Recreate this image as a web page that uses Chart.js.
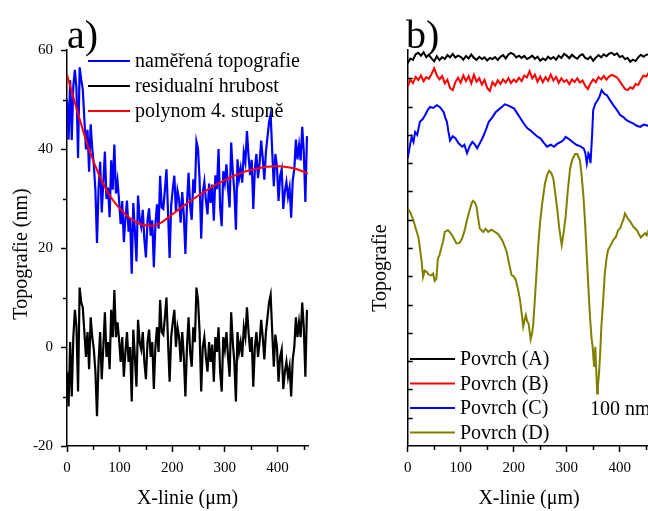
<!DOCTYPE html>
<html>
<head>
<meta charset="utf-8">
<script src="https://cdn.jsdelivr.net/npm/chart.js@4"></script>
<style>
  html, body { margin: 0; padding: 0; width: 648px; height: 511px; overflow: hidden; background: #fff; }
  canvas { position: absolute; top: 0; }
  #chartA { left: 0; }
  #chartB { left: 330px; }
  .panel { position: absolute; font-family: "Liberation Serif", serif; font-size: 40px; line-height: 40px; color: #000; }
</style>
</head>
<body>
<canvas id="chartA" width="330" height="511"></canvas>
<canvas id="chartB" width="330" height="511"></canvas>
<div class="panel" style="left:67px; top:15px">a)</div>
<div class="panel" style="left:406px; top:15px">b)</div>
<script>
// ---- panel a) : sampled every 3 µm ----
const stepA = 3;
const measured = [
  50, 41.9, 53.9, 41.8, 52.7, 56, 52.2, 38.2, 56.5, 54,
  52, 46, 39.9, 43.9, 35.4, 45, 40.1, 36.8, 31.6, 21,
  32, 37.4, 27.2, 33.1, 39.5, 29.9, 32.2, 26.2, 37.7, 31.8,
  40.9, 31, 33.6, 29.6, 24.8, 29.5, 21.2, 25.9, 29.6, 23.3,
  26, 14.8, 29.1, 23.5, 17.3, 30.6, 25.9, 24.3, 27.7, 21.7,
  18.1, 25.6, 28, 22.5, 25.6, 16.1, 24.7, 28.8, 23.9, 34.6,
  28.2, 27.9, 31.7, 35.9, 27.2, 18, 28.6, 31.9, 34.6, 27.4,
  31.6, 29.8, 25.1, 31.3, 26.6, 18.8, 29, 35.2, 28.5, 25.7,
  33.9, 31.1, 41.5, 40, 33.7, 21.9, 31.1, 33.4, 29.6, 26.8,
  33, 29.1, 32.8, 25.5, 34.7, 31.9, 40, 28.2, 24.4, 35.5,
  33.2, 36.9, 32, 28.2, 41.3, 35.5, 31.6, 23.7, 37.9, 34,
  36.1, 33.2, 39.3, 37.4, 43.6, 38.6, 34.7, 37.8, 27.9, 35.9,
  39, 34.1, 37.1, 41.7, 38.2, 33.8, 39.4, 42.4, 45.4, 47,
  39.5, 32.5, 39, 36.5, 29.5, 34.5, 35.9, 27.9, 31.4, 33.3,
  30.3, 32.2, 26.1, 33.6, 36, 41.9, 37.9, 40.8, 37.7, 44.5,
  39.4, 29.3, 42.6
];
const residual = [
  -5, -12, 1, -10, 2, 7.5, 4, -9, 12, 9,
  8, 3, -2, 3, -4.5, 6, 2, -0.5, -5, -14,
  -3, 3, -6.5, 0, 7, -2, 1, -4.5, 7.5, 2,
  11.5, 2, 5, 1.5, -3, 2, -6, -1, 3, -3,
  0, -11, 3.5, -2, -8, 5.5, 1, -0.5, 3, -3,
  -6.5, 1, 3.5, -2, 1, -8.5, 0, 4, -1, 9.5,
  3, 2.5, 6, 10, 1, -7, 2, 5, 7.5, 0,
  4, 2, -3, 3, -2, -10, 0, 6, -1, -4,
  4, 1, 12, 9.5, 3, -9, 0, 2, -2, -5,
  1, -3, 0.5, -7, 2, -1, 4, -5, -9, 2,
  -0.5, 3, -2, -6, 7, 1, -3, -11, 3, -1,
  1, -2, 4, 2, 8, 3, -1, 2, -8, 0,
  3, -2, 1, 5.5, 2, -2.5, 3, 6, 9, 10.5,
  3, -4, 2.5, 0, -7, -2, -0.5, -8.5, -5, -3,
  -6, -4, -10, -2.5, 0, 6, 2, 5, 2, 9,
  4, -6, 7.5
];
const polyX = [0, 20, 40, 60, 80, 100, 120, 140, 160, 180, 200, 220, 240, 260, 280, 300, 320, 340, 360, 380, 400, 420, 440, 458];
const polyY = [55, 47.5, 40.5, 35, 30.8, 28, 26, 24.8, 24.5, 25.2, 26.8, 28.4, 29.9, 31.3, 32.6, 33.7, 34.7, 35.5, 36, 36.4, 36.5, 36.3, 35.8, 35];
const labelsA = ['naměřená topografie', 'residualní hrubost', 'polynom 4. stupně'];

// ---- panel b) : surfaces A, B every 5 µm; C, D at own x ----
const stepB = 5;
const surfA = [
  135.3, 137, 136.5, 138.5, 139, 138, 139.2, 137.5, 138.3, 137,
  136, 137.8, 136.4, 137.5, 136.8, 138.2, 137.4, 138.6, 137.3, 138,
  137.6, 136.6, 137.9, 137, 138.4, 137.2, 136.5, 137.6, 136.8, 137.4,
  136.3, 137.2, 136.8, 137.5, 136.5, 137.6, 138.2, 137, 138.4, 139,
  138.5, 137.4, 138, 137.2, 137.9, 136.8, 137.3, 138, 136.9, 137.6,
  136.2, 137, 136.4, 137.6, 136.8, 137.5, 136.6, 138, 137.2, 138.6,
  138, 137.1, 138.3, 137.5, 136.9, 138, 138.5, 137.2, 136.8, 137.6,
  136.2, 137.3, 138.2, 137.4, 138.5, 137.8, 138.7, 139, 138.2, 138.8,
  137.5, 137.9, 136.8, 137.2, 135.8, 136.6, 136.1, 137.4, 138.3, 137.6,
  138.3, 138.5
];
const surfB = [
  127, 129.5, 128.3, 130.5, 129.4, 131, 129, 130.4, 129.8, 131.5,
  133.5, 131, 129.6, 130.8, 128.2, 129.5, 126.5, 125.8, 128.6, 130.2,
  128.4, 131, 129, 130.8, 128.2, 131.2, 128.8, 130, 127.8, 129.4,
  126.6, 125.5, 128.6, 127.4, 129.3, 128, 129.6, 128.5, 130, 128.3,
  129.6, 128.7, 130.2, 129, 131, 130.3, 132.5, 130, 131.3, 128.8,
  130.6, 128.6, 130.4, 129.1, 131.3, 129.2, 130.5, 128.4, 130, 128.7,
  129.4, 127.9, 129.6, 128.7, 130, 128.5, 129.2, 127.4, 126.2, 128.2,
  129.6, 128.6, 130.4, 129.6, 130.8, 129.5, 130.6, 131.2, 130.8, 130.3,
  129, 127.6, 126.2, 125.8, 126.8, 126.3, 128, 127.6, 129.5, 131,
  130.6, 132
];
const surfCx = [
  0, 4, 7.5, 11, 14, 18, 23, 28, 33, 37, 42, 48, 55, 61, 68, 71, 74, 77, 80, 85,
  90, 96, 103, 107, 112, 117, 122, 126, 131, 136, 141, 147, 153, 159, 166, 172, 178, 183, 188, 194,
  201, 207, 213, 219, 226, 232, 238, 244, 251, 257, 263, 270, 276, 282, 289, 294, 298, 303, 307, 313,
  319, 325, 332, 335, 338, 341, 343, 345, 348, 350, 354, 357, 362, 366, 371, 376, 382, 388, 394, 401,
  407, 413, 419, 426, 432, 439, 445, 451, 456
];
const surfCy = [
  101.7, 106, 109.3, 107.5, 111, 110, 114.6, 115.5, 117, 118.5, 119.9, 119.5, 120.5, 119.8, 118, 116, 114.6, 111, 108, 109.5,
  108.8, 107, 105.8, 106.5, 103.5, 106, 107.5, 106.8, 105.3, 107, 108.8, 111.5, 114.6, 116, 118, 119, 119.9, 120.8, 120.5, 120,
  119.3, 117.5, 115.8, 114, 112.3, 111.5, 110.5, 109.5, 108.7, 107.2, 105.8, 106.5, 105.8, 106.8, 107.5, 108.2, 109.3, 108.7, 108.1, 107.2,
  106.4, 106, 105.2, 103.8, 99.9, 103.5, 102.8, 100, 110, 118.7, 121, 121.8, 123.5, 125.8, 124.5, 124, 122.2, 120.5, 119, 117,
  116.3, 115.2, 114.6, 114, 113.2, 112.8, 113.6, 113.4, 113
];
const surfDx = [
  0, 5, 10.6, 15, 20, 23, 26, 29, 32, 35.7, 40, 45, 48, 51, 54, 57, 60, 64, 67, 70,
  76, 80, 85.5, 92, 98, 103, 107.5, 112, 117, 121, 123.5, 127, 129.8, 133, 136, 142.5, 147, 152, 158, 164.5,
  170, 174, 179, 183.4, 187, 190, 193, 196, 200, 204, 208, 212, 215, 218, 221, 223, 225.5, 228, 232, 235,
  237, 240, 243, 246, 249.6, 254, 259, 263, 267, 271, 274.8, 278, 282.4, 286, 290.6, 294, 298, 302, 306.5, 311,
  316, 320, 325, 328, 331.7, 335, 338, 341, 344, 347, 349, 350.5, 352, 354, 356, 357.5, 359, 361, 363, 365.5,
  369, 372, 375, 378, 383, 388, 393, 397, 401, 404, 407, 410, 415, 420, 426, 432.5, 436, 440, 444, 448,
  451, 454, 457
];
const surfDy = [
  84, 82.5, 79.9, 77, 74, 70, 65.7, 59.8, 62, 61.6, 60.5, 60.4, 61, 58.4, 59, 66.3, 67.5, 70.4, 72.5, 75.7,
  76.3, 75.5, 74, 71.6, 71.8, 73.5, 76.3, 80, 83.4, 86, 86.7, 86, 84.6, 80.5, 76.9, 75.7, 76.8, 75.7, 76.5, 75.7,
  75, 74, 72.5, 70.4, 68.5, 65.7, 63, 60.4, 60, 58.7, 55.5, 51.6, 47, 42.2, 45, 46.3, 44, 43.4, 37.7, 40,
  43.4, 52, 61, 70, 78.7, 86, 92.8, 95.8, 97.3, 96.5, 94.6, 90, 83.4, 77, 71, 75, 81, 90, 98.1, 101.5,
  103.2, 103.2, 101, 96, 88.1, 78, 66.9, 56, 45.7, 38, 35.1, 31, 28, 35.1, 26, 18.6, 21, 25.7, 32, 42.2,
  52, 61, 66, 69.3, 71, 72.8, 74, 76.3, 77, 78.7, 80, 82.2, 80.5, 79.3, 77.5, 76.3, 75, 73.7, 74.5, 75.2,
  74.5, 76, 77
];
const labelsB = ['Povrch (A)', 'Povrch (B)', 'Povrch (C)', 'Povrch (D)'];

const serif = '"Liberation Serif", "Times New Roman", serif';

const stepped = (ys, step) => ys.map((y, i) => ({ x: i * step, y }));
const paired = (xs, ys) => xs.map((x, i) => ({ x, y: ys[i] }));

// minor / inner ticks, legend and rotated y title, drawn with the chart's scales
const extras = {
  id: 'extras',
  afterDraw(chart, args, o) {
    const ctx = chart.ctx;
    const xs = chart.scales.x, ys = chart.scales.y;
    ctx.save();
    ctx.strokeStyle = '#000';
    ctx.lineWidth = 1.5;
    ctx.beginPath();
    for (let v = 50; v <= xs.max; v += 100) {
      const px = Math.round(xs.getPixelForValue(v)) + 0.5;
      ctx.moveTo(px, xs.top); ctx.lineTo(px, xs.top + 4);
    }
    if (o.yMinor) {
      for (let v = ys.min + o.yMinor; v < ys.max; v += o.yMinor * 2) {
        const py = Math.round(ys.getPixelForValue(v)) + 0.5;
        ctx.moveTo(ys.right, py); ctx.lineTo(ys.right - 4, py);
      }
    }
    if (o.yInner) {
      for (let v = ys.min + o.yInner; v < ys.max; v += o.yInner) {
        const py = Math.round(ys.getPixelForValue(v)) + 0.5;
        ctx.moveTo(ys.right, py); ctx.lineTo(ys.right + 5, py);
      }
    }
    ctx.stroke();

    // legend
    ctx.font = '20px ' + serif;
    ctx.textBaseline = 'middle';
    ctx.textAlign = 'left';
    ctx.fillStyle = '#000';
    o.labels.forEach((lab, i) => {
      const ds = chart.data.datasets[i];
      const y = o.legY + i * o.legGap;
      ctx.strokeStyle = ds.borderColor;
      ctx.lineWidth = 2;
      ctx.beginPath();
      ctx.moveTo(o.legX, y); ctx.lineTo(o.legX + o.legLen, y);
      ctx.stroke();
      ctx.fillText(lab, o.legX + o.legLen + 5, y + 1);
    });

    if (o.note) {
      ctx.fillText(o.note.text, xs.getPixelForValue(o.note.x), ys.getPixelForValue(o.note.y));
    }
    if (o.yTitle) {
      ctx.translate(o.yTitle.x, o.yTitle.y);
      ctx.rotate(-Math.PI / 2);
      ctx.textAlign = 'center';
      ctx.fillText(o.yTitle.text, 0, 0);
    }
    ctx.restore();
  }
};

function xAxis() {
  return {
    type: 'linear', min: 0, max: 458,
    ticks: { stepSize: 100, includeBounds: false, color: '#000', font: { family: serif, size: 15 }, padding: 7, maxRotation: 0 },
    grid: { drawOnChartArea: false, drawTicks: true, tickLength: 6, tickWidth: 1.5, tickColor: '#000' },
    border: { display: true, color: '#000', width: 1.5 },
    title: { display: true, text: 'X-linie (μm)', color: '#000', font: { family: serif, size: 20 }, padding: { top: 0, bottom: 0 } },
    afterFit(s) { s.height = 65; s.paddingLeft = 0; s.paddingRight = 0; }
  };
}

const lineDs = (label, data, color, extra) => Object.assign({
  label, data, borderColor: color, backgroundColor: color,
  borderWidth: 2, pointRadius: 0, tension: 0, fill: false
}, extra || {});

new Chart(document.getElementById('chartA'), {
  type: 'line',
  data: {
    datasets: [
      lineDs(labelsA[0], stepped(measured, stepA), '#0000ff', { order: 2, borderWidth: 2.2 }),
      lineDs(labelsA[1], stepped(residual, stepA), '#000000', { order: 2, borderWidth: 2.2 }),
      lineDs(labelsA[2], paired(polyX, polyY), '#ff0000', { order: 1, cubicInterpolationMode: 'monotone' })
    ]
  },
  options: {
    responsive: false,
    animation: false,
    layout: { padding: { top: 50, right: 22, bottom: 0, left: 0 } },
    scales: {
      x: xAxis(),
      y: {
        type: 'linear', min: -20, max: 60,
        ticks: { stepSize: 20, includeBounds: false, color: '#000', font: { family: serif, size: 15 }, padding: 8 },
        grid: { drawOnChartArea: false, drawTicks: true, tickLength: 6, tickWidth: 1.5, tickColor: '#000' },
        border: { display: true, color: '#000', width: 1.5 },
        afterFit(s) { s.width = 67; s.paddingTop = 0; s.paddingBottom = 0; }
      }
    },
    plugins: {
      legend: { display: false },
      tooltip: { enabled: false },
      extras: {
        yMinor: 10, labels: labelsA, legX: 88, legY: 61, legGap: 25, legLen: 42,
        yTitle: { text: 'Topografie (nm)', x: 22, y: 254 }
      }
    }
  },
  plugins: [extras]
});

new Chart(document.getElementById('chartB'), {
  type: 'line',
  data: {
    datasets: [
      lineDs(labelsB[0], stepped(surfA, stepB), '#000000'),
      lineDs(labelsB[1], stepped(surfB, stepB), '#ff0000'),
      lineDs(labelsB[2], paired(surfCx, surfCy), '#0000ff'),
      lineDs(labelsB[3], paired(surfDx, surfDy), '#808000')
    ]
  },
  options: {
    responsive: false,
    animation: false,
    layout: { padding: { top: 50, right: 9.6, bottom: 0, left: 0 } },
    scales: {
      x: xAxis(),
      y: {
        type: 'linear', min: 0, max: 140,
        ticks: { display: false },
        grid: { display: false },
        border: { display: true, color: '#000', width: 1.5 },
        afterFit(s) { s.width = 77.7; s.paddingTop = 0; s.paddingBottom = 0; }
      }
    },
    plugins: {
      legend: { display: false },
      tooltip: { enabled: false },
      extras: {
        yInner: 10, labels: labelsB, legX: 80, legY: 359, legGap: 24.5, legLen: 45,
        note: { text: '100 nm', x: 344, y: 12.9 },
        yTitle: { text: 'Topografie', x: 51, y: 268 }
      }
    }
  },
  plugins: [extras]
});
</script>
</body>
</html>
